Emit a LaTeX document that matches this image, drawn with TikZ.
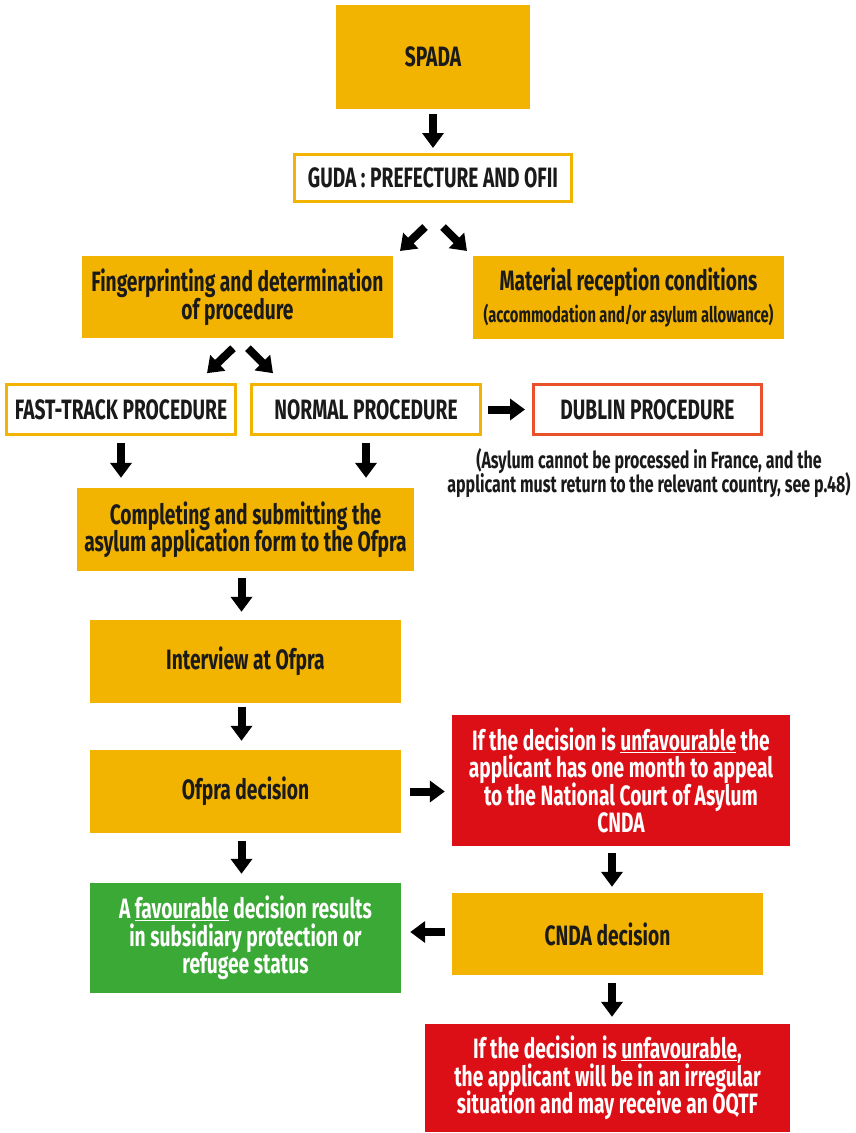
\documentclass[tikz,border=0pt]{standalone}
\usepackage{fontspec}
\setmainfont{Fira Sans}[FakeStretch=0.686]
\usetikzlibrary{arrows.meta,calc}
\definecolor{org}{HTML}{F2B400}
\definecolor{redc}{HTML}{DC0E16}
\definecolor{grn}{HTML}{3AA935}
\definecolor{dub}{HTML}{E8512A}
\definecolor{ink}{HTML}{1A1A1A}
\newcommand\mainfnt{\fontsize{28}{27.5}\selectfont\bfseries\lineskiplimit=-30pt\relax}
\newcommand\notefnt{\fontsize{23.4}{24.5}\selectfont\bfseries\lineskiplimit=-30pt\relax}
\begin{document}
\begin{tikzpicture}[x=1pt,y=-1pt,
  every node/.style={font=\mainfnt, align=center, inner sep=0pt},
  obox/.style={fill=org, text=ink},
  wbox/.style={draw=org, line width=3pt, fill=white, text=ink},
  dbox/.style={draw=dub, line width=3pt, fill=white, text=ink},
  rbox/.style={fill=redc, text=white},
  gbox/.style={fill=grn, text=white},
  blk/.style={line width=8pt, -{Triangle[width=21pt,length=15pt]}},
  smalltxt/.style={font=\notefnt, text=ink}
]
\useasboundingbox (0,0) rectangle (855,1133);

\node[obox, minimum width=194pt, minimum height=104pt] (spada) at (433,57) {SPADA};
\node[wbox, minimum width=277pt, minimum height=47pt] (guda) at (433,178) {GUDA : PREFECTURE AND OFII};
\node[obox, minimum width=311pt, minimum height=82pt] (finger) at (237.5,297) {Fingerprinting and determination\\of procedure};
\node[obox, minimum width=311pt, minimum height=83pt] (material) at (628.5,297.5) {Material reception conditions\\[4pt]{\fontsize{21.5}{21}\selectfont (accommodation and/or asylum allowance)}};
\node[wbox, minimum width=229pt, minimum height=50pt] (fast) at (121,409.5) {FAST-TRACK PROCEDURE};
\node[wbox, minimum width=229pt, minimum height=50pt] (normal) at (366,409.5) {NORMAL PROCEDURE};
\node[dbox, minimum width=228pt, minimum height=50pt] (dublin) at (647.5,409.5) {DUBLIN PROCEDURE};
\node[smalltxt] (note) at (649,473) {(Asylum cannot be processed in France, and the\\applicant must return to the relevant country, see p.48)};
\node[obox, minimum width=337pt, minimum height=83pt] (complete) at (245.5,529.5) {Completing and submitting the\\asylum application form to the Ofpra};
\node[obox, minimum width=311pt, minimum height=83pt] (interview) at (245.5,661.5) {Interview at Ofpra};
\node[obox, minimum width=311pt, minimum height=83pt] (ofpra) at (245.5,791.5) {Ofpra decision};
\node[rbox, minimum width=338pt, minimum height=131pt] (unfav1) at (621,780.5) {If the decision is \underline{unfavourable} the\\applicant has one month to appeal\\to the National Court of Asylum\\CNDA};
\node[obox, minimum width=311pt, minimum height=82pt] (cnda) at (607.5,934) {CNDA decision};
\node[gbox, minimum width=311pt, minimum height=110pt] (fav) at (245.5,938) {A \underline{favourable} decision results\\in subsidiary protection or\\refugee status};
\node[rbox, minimum width=365pt, minimum height=108pt] (unfav2) at (607.5,1078) {If the decision is \underline{unfavourable},\\the applicant will be in an irregular\\situation and may receive an OQTF};

% connectors
\draw[blk] ([yshift=-5pt]spada.south) -- ([yshift=5pt]guda.north);
\draw[blk] ($(guda.south)+(-8,24)$) -- ($(guda.south)+(-33,48)$);
\draw[blk] ($(guda.south)+(10,24)$) -- ($(guda.south)+(34,48)$);
\draw[blk] ($(finger.south)+(-4.5,10)$) -- ($(finger.south)+(-30.5,35)$);
\draw[blk] ($(finger.south)+(10.5,10)$) -- ($(finger.south)+(35.5,35)$);
\draw[blk] ([xshift=6pt]normal.east) -- ([xshift=-7pt]dublin.west);
\draw[blk] ([yshift=-7pt]fast.south) -- ([yshift=10pt]fast.south |- complete.north);
\draw[blk] ([yshift=-7pt]normal.south) -- ([yshift=10pt]normal.south |- complete.north);
\draw[blk] ([xshift=-4pt,yshift=-7pt]complete.south) -- ([xshift=-4pt,yshift=8pt]interview.north);
\draw[blk] ([xshift=-4pt,yshift=-4pt]interview.south) -- ([xshift=-4pt,yshift=9pt]ofpra.north);
\draw[blk] ([xshift=9pt]ofpra.east) -- ([xshift=-7pt]ofpra.east -| unfav1.west);
\draw[blk] ([xshift=-9pt,yshift=-7pt]unfav1.south) -- ([xshift=-9pt,yshift=6pt]unfav1.south |- cnda.north);
\draw[blk] ([xshift=-4pt,yshift=-8pt]ofpra.south) -- ([xshift=-4pt,yshift=9pt]fav.north);
\draw[blk] ([xshift=-7pt,yshift=2pt]cnda.west) -- ([xshift=9pt,yshift=2pt]cnda.west -| fav.east);
\draw[blk] ([xshift=4.5pt,yshift=-8pt]cnda.south) -- ([xshift=4.5pt,yshift=7pt]cnda.south |- unfav2.north);
\end{tikzpicture}
\end{document}
